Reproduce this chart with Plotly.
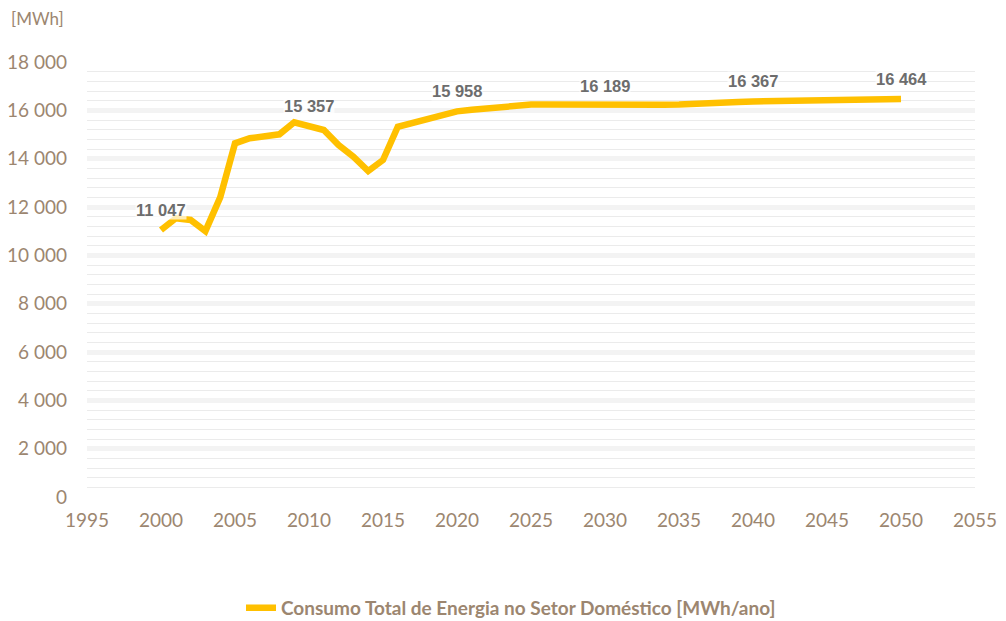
import plotly.graph_objects as go

years = list(range(2000, 2051))
consumo = [11047, 11533, 11463, 11000, 12400, 14636, 14843, 14938, 15008, 15505,
           15357, 15186, 14566, 14083, 13490, 13945, 15320, 15480, 15680, 15830,
           15958, 16020, 16080, 16160, 16210, 16240, 16245, 16240, 16220, 16210,
           16189, 16200, 16205, 16210, 16235, 16245, 16255, 16285, 16300, 16340,
           16367, 16380, 16390, 16400, 16420, 16430, 16440, 16445, 16450, 16458,
           16464]
label_years = [2000, 2010, 2020, 2030, 2040, 2050]
series_name = "Consumo Total de Energia no Setor Doméstico [MWh/ano]"
y_ticks = [0, 2000, 4000, 6000, 8000, 10000, 12000, 14000, 16000, 18000]
x_ticks = list(range(1995, 2056, 5))

brown = "#9c8670"

fig = go.Figure()
fig.add_trace(go.Scatter(
    x=years, y=consumo, mode="lines", name=series_name,
    line=dict(color="#FFC000", width=6.5),
))

for yr in label_years:
    v = consumo[years.index(yr)]
    fig.add_annotation(
        x=yr, y=v, text=f"{v:,}".replace(",", " "), showarrow=False,
        yshift=20, bgcolor="rgba(255,255,255,0.7)",
        font=dict(family="Liberation Sans, Arial", size=16.5, color="#6d6d6d", weight="bold"),
        borderpad=0,
    )

fig.add_annotation(
    x=-0.088, y=1.101, xref="paper", yref="paper", xanchor="left", yanchor="middle",
    text="[MWh]", showarrow=False, font=dict(family="Lato", size=17, color=brown),
)

fig.update_layout(
    width=1006, height=621,
    margin=dict(l=79, r=39, t=54, b=132),
    paper_bgcolor="white", plot_bgcolor="white",
    showlegend=True,
    legend=dict(orientation="h", x=0.5, xanchor="center", xref="container",
                y=0.034, yanchor="middle", yref="container",
                font=dict(family="Lato", size=19, color=brown, weight="bold"),
                itemwidth=30),
    xaxis=dict(range=[1995, 2055], tickvals=x_ticks, showgrid=False, zeroline=False,
               showline=False, ticks="", ticklabelstandoff=10, automargin=False,
               tickfont=dict(family="Lato", size=19, color=brown)),
    yaxis=dict(range=[0, 18000], tickvals=y_ticks,
               ticktext=[f"{t:,}".replace(",", " ") for t in y_ticks],
               showgrid=True, gridcolor="#f3f3f3", gridwidth=5, zeroline=False,
               showline=False, ticks="", ticklabelstandoff=19, automargin=False,
               tickfont=dict(family="Lato", size=19, color=brown),
               minor=dict(dtick=400, showgrid=True, gridcolor="#ebebeb", gridwidth=1)),
)

fig.write_html("out.html")
